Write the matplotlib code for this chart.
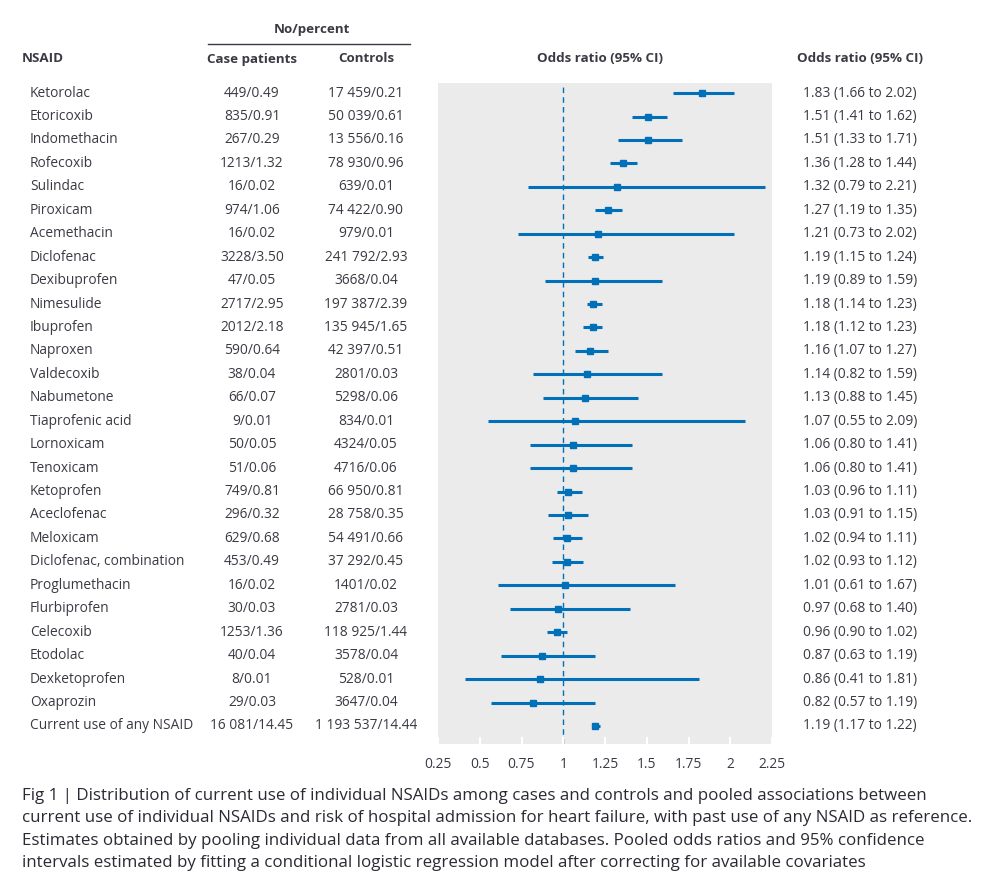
import matplotlib.pyplot as plt
import matplotlib.transforms as mtransforms

drugs = ['Ketorolac', 'Etoricoxib', 'Indomethacin', 'Rofecoxib', 'Sulindac', 'Piroxicam',
         'Acemethacin', 'Diclofenac', 'Dexibuprofen', 'Nimesulide', 'Ibuprofen', 'Naproxen',
         'Valdecoxib', 'Nabumetone', 'Tiaprofenic acid', 'Lornoxicam', 'Tenoxicam',
         'Ketoprofen', 'Aceclofenac', 'Meloxicam', 'Diclofenac, combination',
         'Proglumethacin', 'Flurbiprofen', 'Celecoxib', 'Etodolac', 'Dexketoprofen',
         'Oxaprozin', 'Current use of any NSAID']
cases = ['449/0.49', '835/0.91', '267/0.29', '1213/1.32', '16/0.02', '974/1.06', '16/0.02',
         '3228/3.50', '47/0.05', '2717/2.95', '2012/2.18', '590/0.64', '38/0.04', '66/0.07',
         '9/0.01', '50/0.05', '51/0.06', '749/0.81', '296/0.32', '629/0.68', '453/0.49',
         '16/0.02', '30/0.03', '1253/1.36', '40/0.04', '8/0.01', '29/0.03', '16 081/14.45']
controls = ['17 459/0.21', '50 039/0.61', '13 556/0.16', '78 930/0.96', '639/0.01',
            '74 422/0.90', '979/0.01', '241 792/2.93', '3668/0.04', '197 387/2.39',
            '135 945/1.65', '42 397/0.51', '2801/0.03', '5298/0.06', '834/0.01', '4324/0.05',
            '4716/0.06', '66 950/0.81', '28 758/0.35', '54 491/0.66', '37 292/0.45',
            '1401/0.02', '2781/0.03', '118 925/1.44', '3578/0.04', '528/0.01', '3647/0.04',
            '1 193 537/14.44']
odds = [1.83, 1.51, 1.51, 1.36, 1.32, 1.27, 1.21, 1.19, 1.19, 1.18, 1.18, 1.16, 1.14, 1.13,
        1.07, 1.06, 1.06, 1.03, 1.03, 1.02, 1.02, 1.01, 0.97, 0.96, 0.87, 0.86, 0.82, 1.19]
lower = [1.66, 1.41, 1.33, 1.28, 0.79, 1.19, 0.73, 1.15, 0.89, 1.14, 1.12, 1.07, 0.82, 0.88,
         0.55, 0.80, 0.80, 0.96, 0.91, 0.94, 0.93, 0.61, 0.68, 0.90, 0.63, 0.41, 0.57, 1.17]
upper = [2.02, 1.62, 1.71, 1.44, 2.21, 1.35, 2.02, 1.24, 1.59, 1.23, 1.23, 1.27, 1.59, 1.45,
         2.09, 1.41, 1.41, 1.11, 1.15, 1.11, 1.12, 1.67, 1.40, 1.02, 1.19, 1.81, 1.19, 1.22]
xticks = [0.25, 0.5, 0.75, 1, 1.25, 1.5, 1.75, 2, 2.25]

blue = '#0070b8'
txt = '#3a3a44'
body = ['Open Sans', 'DejaVu Sans']
fs = 9.9

fig = plt.figure(figsize=(10, 8.8), dpi=100)
ax = fig.add_axes([0.438, 1 - 744 / 880, 0.334, (744 - 83) / 880])
ax.set_facecolor('#ebebeb')
for s in ax.spines.values():
    s.set_visible(False)

n = len(drugs)
ys = list(range(n))
ax.axvline(1, color=blue, lw=1, ls=(0, (4, 3)), zorder=1)
for i in ys:
    ax.plot([lower[i], upper[i]], [i, i], color=blue, lw=2.2, solid_capstyle='butt', zorder=2)
ax.plot(odds, ys, 's', color=blue, ms=5, zorder=3)

ax.set_xlim(0.25, 2.25)
ax.set_ylim(27.77, -0.43)
ax.set_yticks([])
ax.set_xticks(xticks)
ax.set_xticklabels(['%g' % t for t in xticks], fontsize=fs, color=txt, family=body)
ax.tick_params(axis='x', direction='in', color='white', length=5, width=1.5, pad=9)

tr = mtransforms.blended_transform_factory(fig.transFigure, ax.transData)
for i in ys:
    fig.text(0.030, i, drugs[i], transform=tr, ha='left', va='center', fontsize=fs,
             color=txt, family=body)
    fig.text(0.252, i, cases[i], transform=tr, ha='center', va='center', fontsize=fs,
             color=txt, family=body)
    fig.text(0.366, i, controls[i], transform=tr, ha='center', va='center', fontsize=fs,
             color=txt, family=body)
    fig.text(0.860, i, '%.2f (%.2f to %.2f)' % (odds[i], lower[i], upper[i]), transform=tr,
             ha='center', va='center', fontsize=fs, color=txt, family=body)

hy = 1 - 59 / 880
hkw = dict(fontsize=9.6, color=txt, family=body, fontweight='bold', va='center')
fig.text(0.022, hy, 'NSAID', ha='left', **hkw)
fig.text(0.252, hy, 'Case patients', ha='center', **hkw)
fig.text(0.366, hy, 'Controls', ha='center', **hkw)
fig.text(0.600, hy, 'Odds ratio (95% CI)', ha='center', **hkw)
fig.text(0.860, hy, 'Odds ratio (95% CI)', ha='center', **hkw)
fig.text(0.312, 1 - 30 / 880, 'No/percent', ha='center', **hkw)
fig.add_artist(plt.Line2D([0.208, 0.410], [1 - 44 / 880, 1 - 44 / 880], color=txt, lw=1))

caption = ['Fig 1 | Distribution of current use of individual NSAIDs among cases and controls and pooled associations between',
           'current use of individual NSAIDs and risk of hospital admission for heart failure, with past use of any NSAID as reference.',
           'Estimates obtained by pooling individual data from all available databases. Pooled odds ratios and 95% confidence',
           'intervals estimated by fitting a conditional logistic regression model after correcting for available covariates']
for k, line in enumerate(caption):
    fig.text(0.022, 1 - (796 + 22.3 * k) / 880, line, ha='left', va='center', fontsize=12.2,
             color='#2a2a34', family=body)

fig.savefig('out.png', dpi=100, facecolor='white')
